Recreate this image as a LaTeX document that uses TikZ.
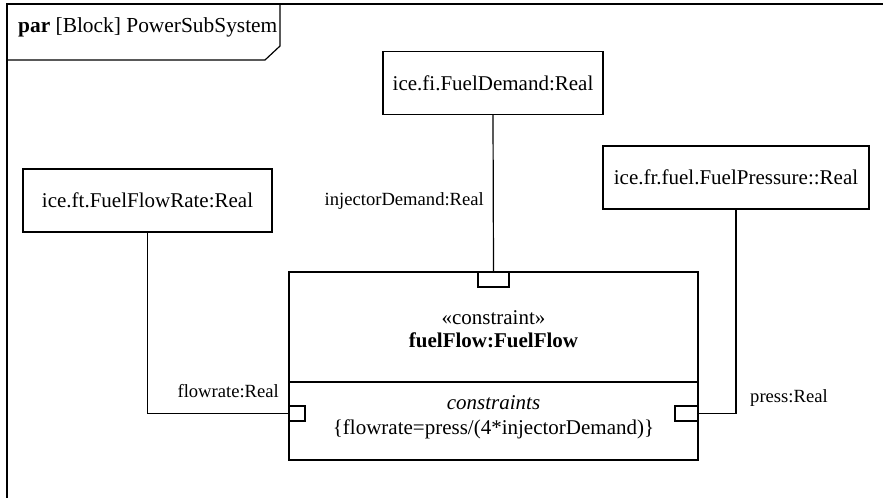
\documentclass[tikz,border=0pt]{standalone}
\usepackage{fontspec}
\setmainfont{Liberation Serif}
\usetikzlibrary{calc}
\begin{document}
\begin{tikzpicture}[x=1pt,y=-1pt,
  every node/.style={font=\fontsize{21}{25}\selectfont, inner sep=0pt},
  frameline/.style={line width=1.8pt},
  wire/.style={line width=1.2pt},
  valuebox/.style={draw, line width=1.2pt, rectangle, minimum height=63pt},
  portbox/.style={draw, line width=1.2pt, rectangle, minimum height=15pt},
  lbl/.style={font=\fontsize{18.6}{22}\selectfont}]
\useasboundingbox (0,0) rectangle (883,498);
% diagram frame and its header tab
\draw[frameline] (883,4) -- (7,4) -- (7,498);
\draw[wire] (280,4) -- (280,46) -- (265,60) -- (7,60);
\node[anchor=base west, font=\fontsize{21.4}{25}\selectfont] (title) at (18,32) {\textbf{par} [Block] PowerSubSystem};
% value properties
\node[valuebox, minimum width=220pt] (demand) at (493,83) {ice.fi.FuelDemand:Real};
\node[valuebox, minimum width=249pt] (rate) at (147.5,200.5) {ice.ft.FuelFlowRate:Real};
\node[valuebox, minimum width=266pt] (pressure) at (736,177.5) {ice.fr.fuel.FuelPressure::Real};
% constraint property
\node[draw, line width=1.2pt, rectangle, minimum width=409pt, minimum height=188pt] (cons) at (493.5,366) {};
\draw[wire] (cons.west |- 0,382) -- (cons.east |- 0,382);
\node (stereo) at (493.5,318) {\guillemotleft constraint\guillemotright};
\node (cname) at (493.5,340) {\textbf{fuelFlow:FuelFlow}};
\node (ctitle) at (493.5,403) {\textit{constraints}};
\node (cbody) at (493.5,429) {\{flowrate=press/(4*injectorDemand)\}};
% constraint parameters
\node[portbox, minimum width=31pt] (pinj) at (493.5,279.5) {};
\node[portbox, minimum width=16pt] (pflow) at (297,413.5) {};
\node[portbox, minimum width=23pt] (ppress) at (686.5,413.5) {};
% binding connectors
\draw[wire] (demand.south) -- (pinj.north);
\draw[wire] (rate.south) |- (pflow.west);
\draw[wire] (pressure.south) |- (ppress.east);
% connector end labels
\node[lbl, anchor=east] (linj) at (484,201) {injectorDemand:Real};
\node[lbl, anchor=east] (lflow) at (279,391) {flowrate:Real};
\node[lbl, anchor=west] (lpress) at (750,398) {press:Real};
\end{tikzpicture}
\end{document}
